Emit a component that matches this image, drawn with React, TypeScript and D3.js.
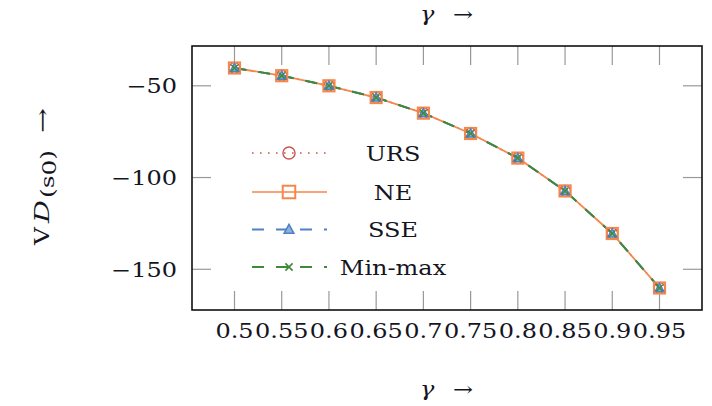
import React from "react";
import * as d3 from "d3";

const gammas = [0.5, 0.55, 0.6, 0.65, 0.7, 0.75, 0.8, 0.85, 0.9, 0.95];
const urs = [-40.3, -44.5, -50.0, -56.4, -64.9, -76.0, -89.4, -107.3, -130.5, -160.2];
const ne = [-40.3, -44.5, -50.0, -56.4, -64.9, -76.0, -89.4, -107.3, -130.5, -160.2];
const sse = [-40.3, -44.5, -50.0, -56.4, -64.9, -76.0, -89.4, -107.3, -130.5, -160.2];
const minmax = [-40.3, -44.5, -50.0, -56.4, -64.9, -76.0, -89.4, -107.3, -130.5, -160.2];
const yTicks = [-150, -100, -50];
const xTickLabels = ["0.5", "0.55", "0.6", "0.65", "0.7", "0.75", "0.8", "0.85", "0.9", "0.95"];
const seriesNames = ["URS", "NE", "SSE", "Min-max"];

const W = 712, H = 406;
const L = 192, R = 702, T = 46, B = 310;
const FONT = "'DejaVu Serif', serif";
const TXT = "#15151f";

type S = { name: string; values: number[]; color: string; dash: string; width: number; mark: string };

const series: S[] = [
  { name: seriesNames[0], values: urs, color: "#c8554f", dash: "1.6 6.4", width: 1.6, mark: "circle" },
  { name: seriesNames[1], values: ne, color: "#f5874a", dash: "", width: 1.8, mark: "square" },
  { name: seriesNames[2], values: sse, color: "#4f81c4", dash: "12 12", width: 1.8, mark: "triangle" },
  { name: seriesNames[3], values: minmax, color: "#3f8a3a", dash: "12 12", width: 2, mark: "cross" },
];

function Marker({ x, y, s, legend }: { x: number; y: number; s: S; legend?: boolean }) {
  const k = legend ? 1.12 : 1;
  if (s.mark === "circle")
    return <circle cx={x} cy={y} r={5.4 * k} fill="none" stroke={s.color} strokeWidth={1.4} />;
  if (s.mark === "square") {
    const h = 5.6 * k;
    return <rect x={x - h} y={y - h} width={2 * h} height={2 * h} fill="none" stroke={s.color} strokeWidth={2} />;
  }
  if (s.mark === "triangle") {
    const h = 4.6 * k;
    const p = `M${x},${y - h} L${x + h * 0.95},${y + h * 0.75} L${x - h * 0.95},${y + h * 0.75} Z`;
    return <path d={p} fill="#8fb0de" stroke={s.color} strokeWidth={1.5} />;
  }
  const h = 3.2 * k;
  return (
    <path d={`M${x - h},${y - h} L${x + h},${y + h} M${x - h},${y + h} L${x + h},${y - h}`} stroke={s.color} strokeWidth={1.6} />
  );
}

function ST({ x, y, anchor = "middle", size = 20, children }: any) {
  return (
    <g transform={`translate(${x},${y}) scale(1.2,1)`}>
      <text textAnchor={anchor} fontFamily={FONT} fontSize={size} fill={TXT}>
        {children}
      </text>
    </g>
  );
}

export default function App() {
  const all = series.flatMap((s) => s.values);
  const ymin = d3.min(all)!, ymax = d3.max(all)!;
  const ypad = (ymax - ymin) * 0.1;
  const xmin = d3.min(gammas)!, xmax = d3.max(gammas)!;
  const xpad = (xmax - xmin) * 0.1;
  const x = d3.scaleLinear().domain([xmin - xpad, xmax + xpad]).range([L, R]);
  const y = d3.scaleLinear().domain([ymin - ypad, ymax + ypad]).range([B, T]);

  const line = (vals: number[]) =>
    d3.line<number>().x((_, i) => x(gammas[i])).y((v) => y(v))(vals) || "";

  const TL = 19;
  const legY = [153, 192, 229.5, 267];

  return (
    <svg width={W} height={H} style={{ position: "absolute", left: 0, top: 0, background: "#fff" }}>
      <rect width={W} height={H} fill="#fff" />
      {gammas.map((g, i) => (
        <g key={"xt" + i} stroke="#999" strokeWidth={1.2}>
          <line x1={x(g)} x2={x(g)} y1={B} y2={B - TL} />
          <line x1={x(g)} x2={x(g)} y1={T} y2={T + TL} />
        </g>
      ))}
      {yTicks.map((t, i) => (
        <g key={"yt" + i} stroke="#999" strokeWidth={1.2}>
          <line x1={L} x2={L + TL} y1={y(t)} y2={y(t)} />
          <line x1={R} x2={R - TL} y1={y(t)} y2={y(t)} />
        </g>
      ))}
      {series.map((s) => (
        <path key={s.name} d={line(s.values)} fill="none" stroke={s.color} strokeWidth={s.width} strokeDasharray={s.dash || undefined} />
      ))}
      {series.map((s) =>
        s.values.map((v, i) => <Marker key={s.name + i} x={x(gammas[i])} y={y(v)} s={s} />)
      )}
      <rect x={L} y={T} width={R - L} height={B - T} fill="none" stroke="#111" strokeWidth={1.6} />
      {gammas.map((g, i) => (
        <ST key={"xl" + i} x={x(g)} y={338}>
          {xTickLabels[i]}
        </ST>
      ))}
      {yTicks.map((t, i) => (
        <ST key={"yl" + i} x={177} y={y(t) + 7.5} anchor="end">
          {"\u2212" + Math.abs(t)}
        </ST>
      ))}
      {series.map((s, i) => (
        <g key={"lg" + i}>
          <line x1={252} x2={327} y1={legY[i]} y2={legY[i]} stroke={s.color} strokeWidth={s.width} strokeDasharray={s.dash || undefined} opacity={s.mark === "square" ? 0.75 : 1} />
          <Marker x={289} y={legY[i]} s={s} legend />
          <ST x={393} y={legY[i] + 7.5}>{s.name}</ST>
        </g>
      ))}
      <ST x={420} y={21} anchor="start"><tspan fontStyle="italic">γ</tspan></ST>
      <ST x={473} y={21} anchor="end">→</ST>
      <ST x={420} y={396} anchor="start"><tspan fontStyle="italic">γ</tspan></ST>
      <ST x={473} y={396} anchor="end">→</ST>
      <g transform="translate(49,245) rotate(-90)" fontFamily={FONT} fill={TXT}>
        <text x={0} y={0} fontSize={20} textLength={18} lengthAdjust="spacingAndGlyphs">V</text>
        <text x={22} y={0} fontSize={21} fontStyle="italic" textLength={23} lengthAdjust="spacingAndGlyphs">D</text>
        <text x={47} y={5} fontSize={18} textLength={48} lengthAdjust="spacingAndGlyphs">
          (s<tspan dy={2}>0</tspan><tspan dy={-2}>)</tspan>
        </text>
        <text x={112} y={0} fontSize={20} textLength={25} lengthAdjust="spacingAndGlyphs">→</text>
      </g>
    </svg>
  );
}
